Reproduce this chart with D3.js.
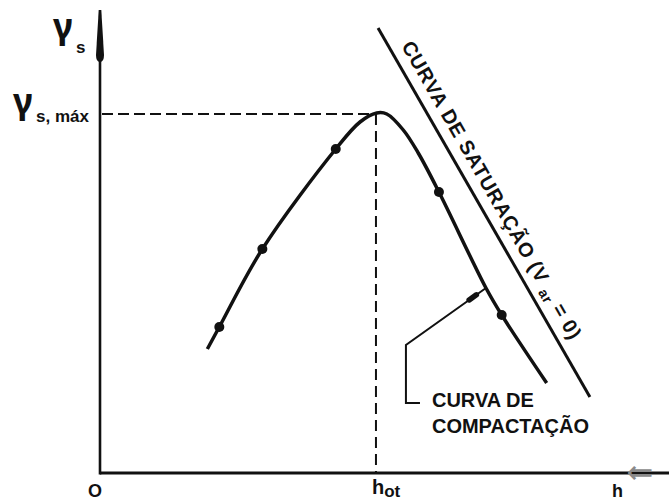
<!DOCTYPE html>
<html>
<head>
<meta charset="utf-8">
<script src="https://cdn.jsdelivr.net/npm/d3@7/dist/d3.min.js"></script>
<style>
  html, body { margin: 0; padding: 0; background: #fff; }
  svg { display: block; }
  text { font-family: "Liberation Sans", Arial, sans-serif; font-weight: bold; fill: #111; }
</style>
</head>
<body>
<svg id="chart" width="669" height="502"></svg>
<script>
// curva de compactação (traçado) — h (%) x γs (kN/m³)
const curveH = [5.66, 6.29, 8.56, 12.43, 13.71, 14.59, 15.12, 15.99, 16.78, 17.87, 20.35, 21.18, 23.55];
const curveG = [16.24, 16.46, 17.24, 18.24, 18.51, 18.60, 18.59, 18.43, 18.20, 17.81, 16.85, 16.58, 15.90];

// pontos do ensaio
const testH = [6.29, 8.56, 12.43, 17.87, 21.18];
const testG = [16.46, 17.24, 18.24, 17.81, 16.58];

// curva de saturação (V ar = 0)
const satH = [14.66, 25.83];
const satG = [19.45, 15.76];

// ponto ótimo
const hOt = 14.55;
const gMax = 18.59;

// chamada da legenda da compactação: ponto na curva, cotovelo, fim
const leaderH = [20.35, 16.13, 16.13, 16.87];
const leaderG = [16.85, 16.28, 15.70, 15.70];

(function(){
  const svg = d3.select('#chart');
  const W = 669, H = 502;
  const left = 100, bottom = 473;

  const x = d3.scaleLinear().domain([0, 30]).range([left, W]);
  const y = d3.scaleLinear().domain([15, 19.6]).range([bottom, 13]);

  svg.append('rect').attr('width', W).attr('height', H).attr('fill', '#fff');

  // eixos
  svg.append('line')
    .attr('x1', left).attr('x2', W).attr('y1', bottom).attr('y2', bottom)
    .attr('stroke', '#111').attr('stroke-width', 3);
  svg.append('line')
    .attr('x1', left).attr('x2', left).attr('y1', 55).attr('y2', bottom + 1.5)
    .attr('stroke', '#111').attr('stroke-width', 2.6);
  // ponta do eixo vertical
  svg.append('path')
    .attr('d', `M${left-1.3},10 L${left+1.3},10 L${left+4},55 Q${left+4},62 ${left},62 Q${left-4},62 ${left-4},55 Z`)
    .attr('fill', '#111');

  // linhas de referência
  svg.append('line')
    .attr('x1', left + 2).attr('x2', x(hOt)).attr('y1', y(gMax)).attr('y2', y(gMax))
    .attr('stroke', '#111').attr('stroke-width', 2).attr('stroke-dasharray', '11,5');
  svg.append('line')
    .attr('x1', x(hOt)).attr('x2', x(hOt)).attr('y1', y(gMax)).attr('y2', bottom)
    .attr('stroke', '#111').attr('stroke-width', 2).attr('stroke-dasharray', '11,6');

  // curva de saturação
  svg.append('line')
    .attr('x1', x(satH[0])).attr('y1', y(satG[0]))
    .attr('x2', x(satH[1])).attr('y2', y(satG[1]))
    .attr('stroke', '#111').attr('stroke-width', 3);

  // curva de compactação
  const line = d3.line().x(d => x(d[0])).y(d => y(d[1])).curve(d3.curveCatmullRom.alpha(0.5));
  svg.append('path')
    .datum(curveH.map((h, i) => [h, curveG[i]]))
    .attr('d', line)
    .attr('fill', 'none').attr('stroke', '#111').attr('stroke-width', 3.5);

  svg.selectAll('circle.pt')
    .data(testH.map((h, i) => [h, testG[i]]))
    .enter().append('circle')
    .attr('class', 'pt')
    .attr('cx', d => x(d[0])).attr('cy', d => y(d[1])).attr('r', 5)
    .attr('fill', '#111');

  // chamada
  const lp = leaderH.map((h, i) => [x(h), y(leaderG[i])]);
  svg.append('path')
    .attr('d', d3.line()(lp.slice().reverse()))
    .attr('fill', 'none').attr('stroke', '#111').attr('stroke-width', 2);
  const a = lp[1], b = lp[0];
  const at = t => [a[0] + (b[0]-a[0])*t, a[1] + (b[1]-a[1])*t];
  const m1 = at(0.79), m2 = at(0.88);
  svg.append('line')
    .attr('x1', m1[0]).attr('y1', m1[1]).attr('x2', m2[0]).attr('y2', m2[1])
    .attr('stroke', '#111').attr('stroke-width', 5.5).attr('stroke-linecap', 'round');

  svg.append('text').attr('x', lp[3][0] + 12).attr('y', 407).attr('font-size', 20).text('CURVA DE');
  svg.append('text').attr('x', lp[3][0] + 12).attr('y', 433).attr('font-size', 20).text('COMPACTAÇÃO');

  // rótulo da curva de saturação
  const p0 = [x(satH[0]), y(satG[0])], p1 = [x(satH[1]), y(satG[1])];
  const ang = Math.atan2(p1[1]-p0[1], p1[0]-p0[0]);
  const u = [Math.cos(ang), Math.sin(ang)], n = [Math.sin(ang), -Math.cos(ang)];
  const s0 = 27, off = 11;
  const tx = p0[0] + u[0]*s0 + n[0]*off, ty = p0[1] + u[1]*s0 + n[1]*off;
  const sat = svg.append('text')
    .attr('transform', `translate(${tx},${ty}) rotate(${ang*180/Math.PI})`)
    .attr('font-size', 20)
    .attr('textLength', 340).attr('lengthAdjust', 'spacing');
  sat.append('tspan').text('CURVA DE SATURAÇÃO (V ');
  sat.append('tspan').attr('font-size', 14).attr('dy', 4).text('ar');
  sat.append('tspan').attr('dy', -4).text(' = 0)');

  // rótulos dos eixos
  const greek = '"Noto Sans", "Open Sans", sans-serif';
  svg.append('text').attr('x', 53).attr('y', 39).attr('font-size', 35).style('font-family', greek).text('γ');
  svg.append('text').attr('x', 76).attr('y', 53).attr('font-size', 17).text('s');
  svg.append('text').attr('x', 13).attr('y', 114).attr('font-size', 35).style('font-family', greek).text('γ');
  svg.append('text').attr('x', 36).attr('y', 122).attr('font-size', 17).text('s, máx');

  svg.append('text').attr('x', 95).attr('y', 497).attr('font-size', 18).attr('text-anchor', 'middle').text('O');
  const hl = svg.append('text').attr('x', x(hOt) - 4).attr('y', 494).attr('font-size', 20);
  hl.append('tspan').text('h');
  hl.append('tspan').attr('font-size', 17).attr('dy', 3).text('ot');
  svg.append('text').attr('x', 612).attr('y', 497).attr('font-size', 18).text('h');
  svg.append('text').attr('x', 640).attr('y', 483).attr('font-size', 32)
    .attr('text-anchor', 'middle').style('font-family', '"DejaVu Sans", sans-serif').style('font-weight', 'normal')
    .style('fill', '#8a8a8a').text('⇐');
})();
</script>
</body>
</html>
